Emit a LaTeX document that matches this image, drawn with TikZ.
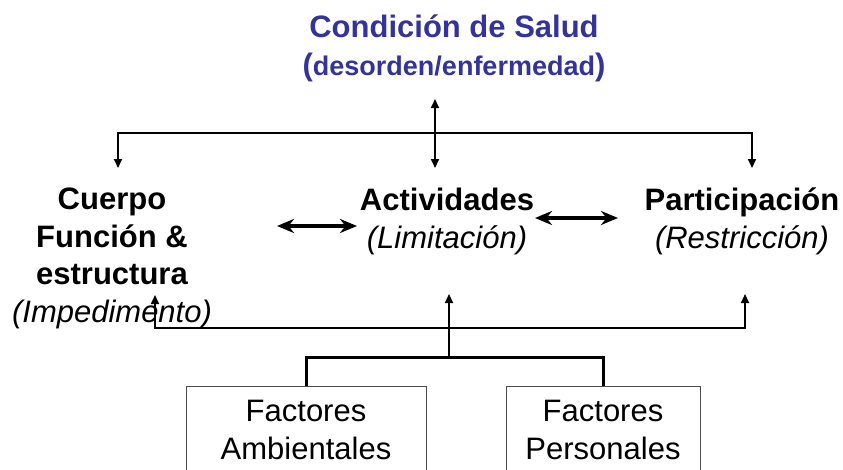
\documentclass[tikz,border=0pt]{standalone}
\usepackage{fontspec}
\setmainfont{Liberation Sans}
\usetikzlibrary{arrows.meta, positioning}
\definecolor{saludblue}{RGB}{51,51,153}

\begin{document}
\begin{tikzpicture}[
    x=1pt, y=-1pt,
    every node/.style={align=center, inner sep=0pt, font=\fontsize{31}{37.5}\selectfont},
    headline/.style={text=saludblue, font=\fontsize{31}{37.5}\selectfont\bfseries},
    component/.style={anchor=base, font=\fontsize{31}{37.5}\selectfont\bfseries},
    factorbox/.style={draw=black!70, line width=1pt, anchor=north, inner ysep=14pt},
    link/.style={line width=2pt, -{Triangle[length=9pt,width=8pt]}},
    twolink/.style={line width=2pt, {Triangle[length=9pt,width=8pt]}-{Triangle[length=9pt,width=8pt]}},
    interact/.style={line width=3.5pt, {Stealth[length=17pt,width=14pt]}-{Stealth[length=17pt,width=14pt]}},
    bracket/.style={line width=3pt}
]
\useasboundingbox (0,0) rectangle (843,469);
\clip (0,0) rectangle (843,469);

% texts (base = last line)
\node[headline, anchor=base] (cond) at (454,75) {Condición de Salud\\({\fontsize{27}{37.5}\selectfont desorden/enfermedad})};
\node[component] (cuerpo) at (112,322) {Cuerpo\\Función \&\\estructura\\{\mdseries\itshape (Impedimento)}};
\node[component] (activ) at (447,248) {Actividades\\{\mdseries\itshape (Limitación)}};
\node[component] (partic) at (742,248) {Participación\\{\mdseries\itshape (Restricción)}};

\node[factorbox, minimum width=240pt] (ambient) at (306,386) {Factores\\Ambientales};
\node[factorbox, minimum width=194pt] (personal) at (603,386) {Factores\\Personales};

% connector ends
\coordinate (cond-out) at (435,99);
\coordinate (hub) at (435,133);
\coordinate (activ-in) at (435,168);
\coordinate (cuerpo-in) at (118,168);
\coordinate (partic-in) at (752,168);
\coordinate (cuerpo-up) at (155,295);
\coordinate (partic-up) at (745,294);
\coordinate (activ-up) at (449,294);
\coordinate (bus) at (449,328);
\coordinate (fork) at (449,357);
\coordinate (cuerpo-e) at (277,226);
\coordinate (activ-w) at (357,226);
\coordinate (activ-e) at (535,218);
\coordinate (partic-w) at (618,218);

\draw[twolink] (cuerpo-in) |- (hub) -| (partic-in);
\draw[twolink] (cond-out) -- (activ-in);
\draw[interact] (cuerpo-e) -- (activ-w);
\draw[interact] (activ-e) -- (partic-w);
\draw[twolink] (cuerpo-up) |- (bus) -| (partic-up);
\draw[link] (fork) -- (activ-up);
\draw[bracket] (ambient.north) |- (fork) -| (personal.north);
\end{tikzpicture}
\end{document}
